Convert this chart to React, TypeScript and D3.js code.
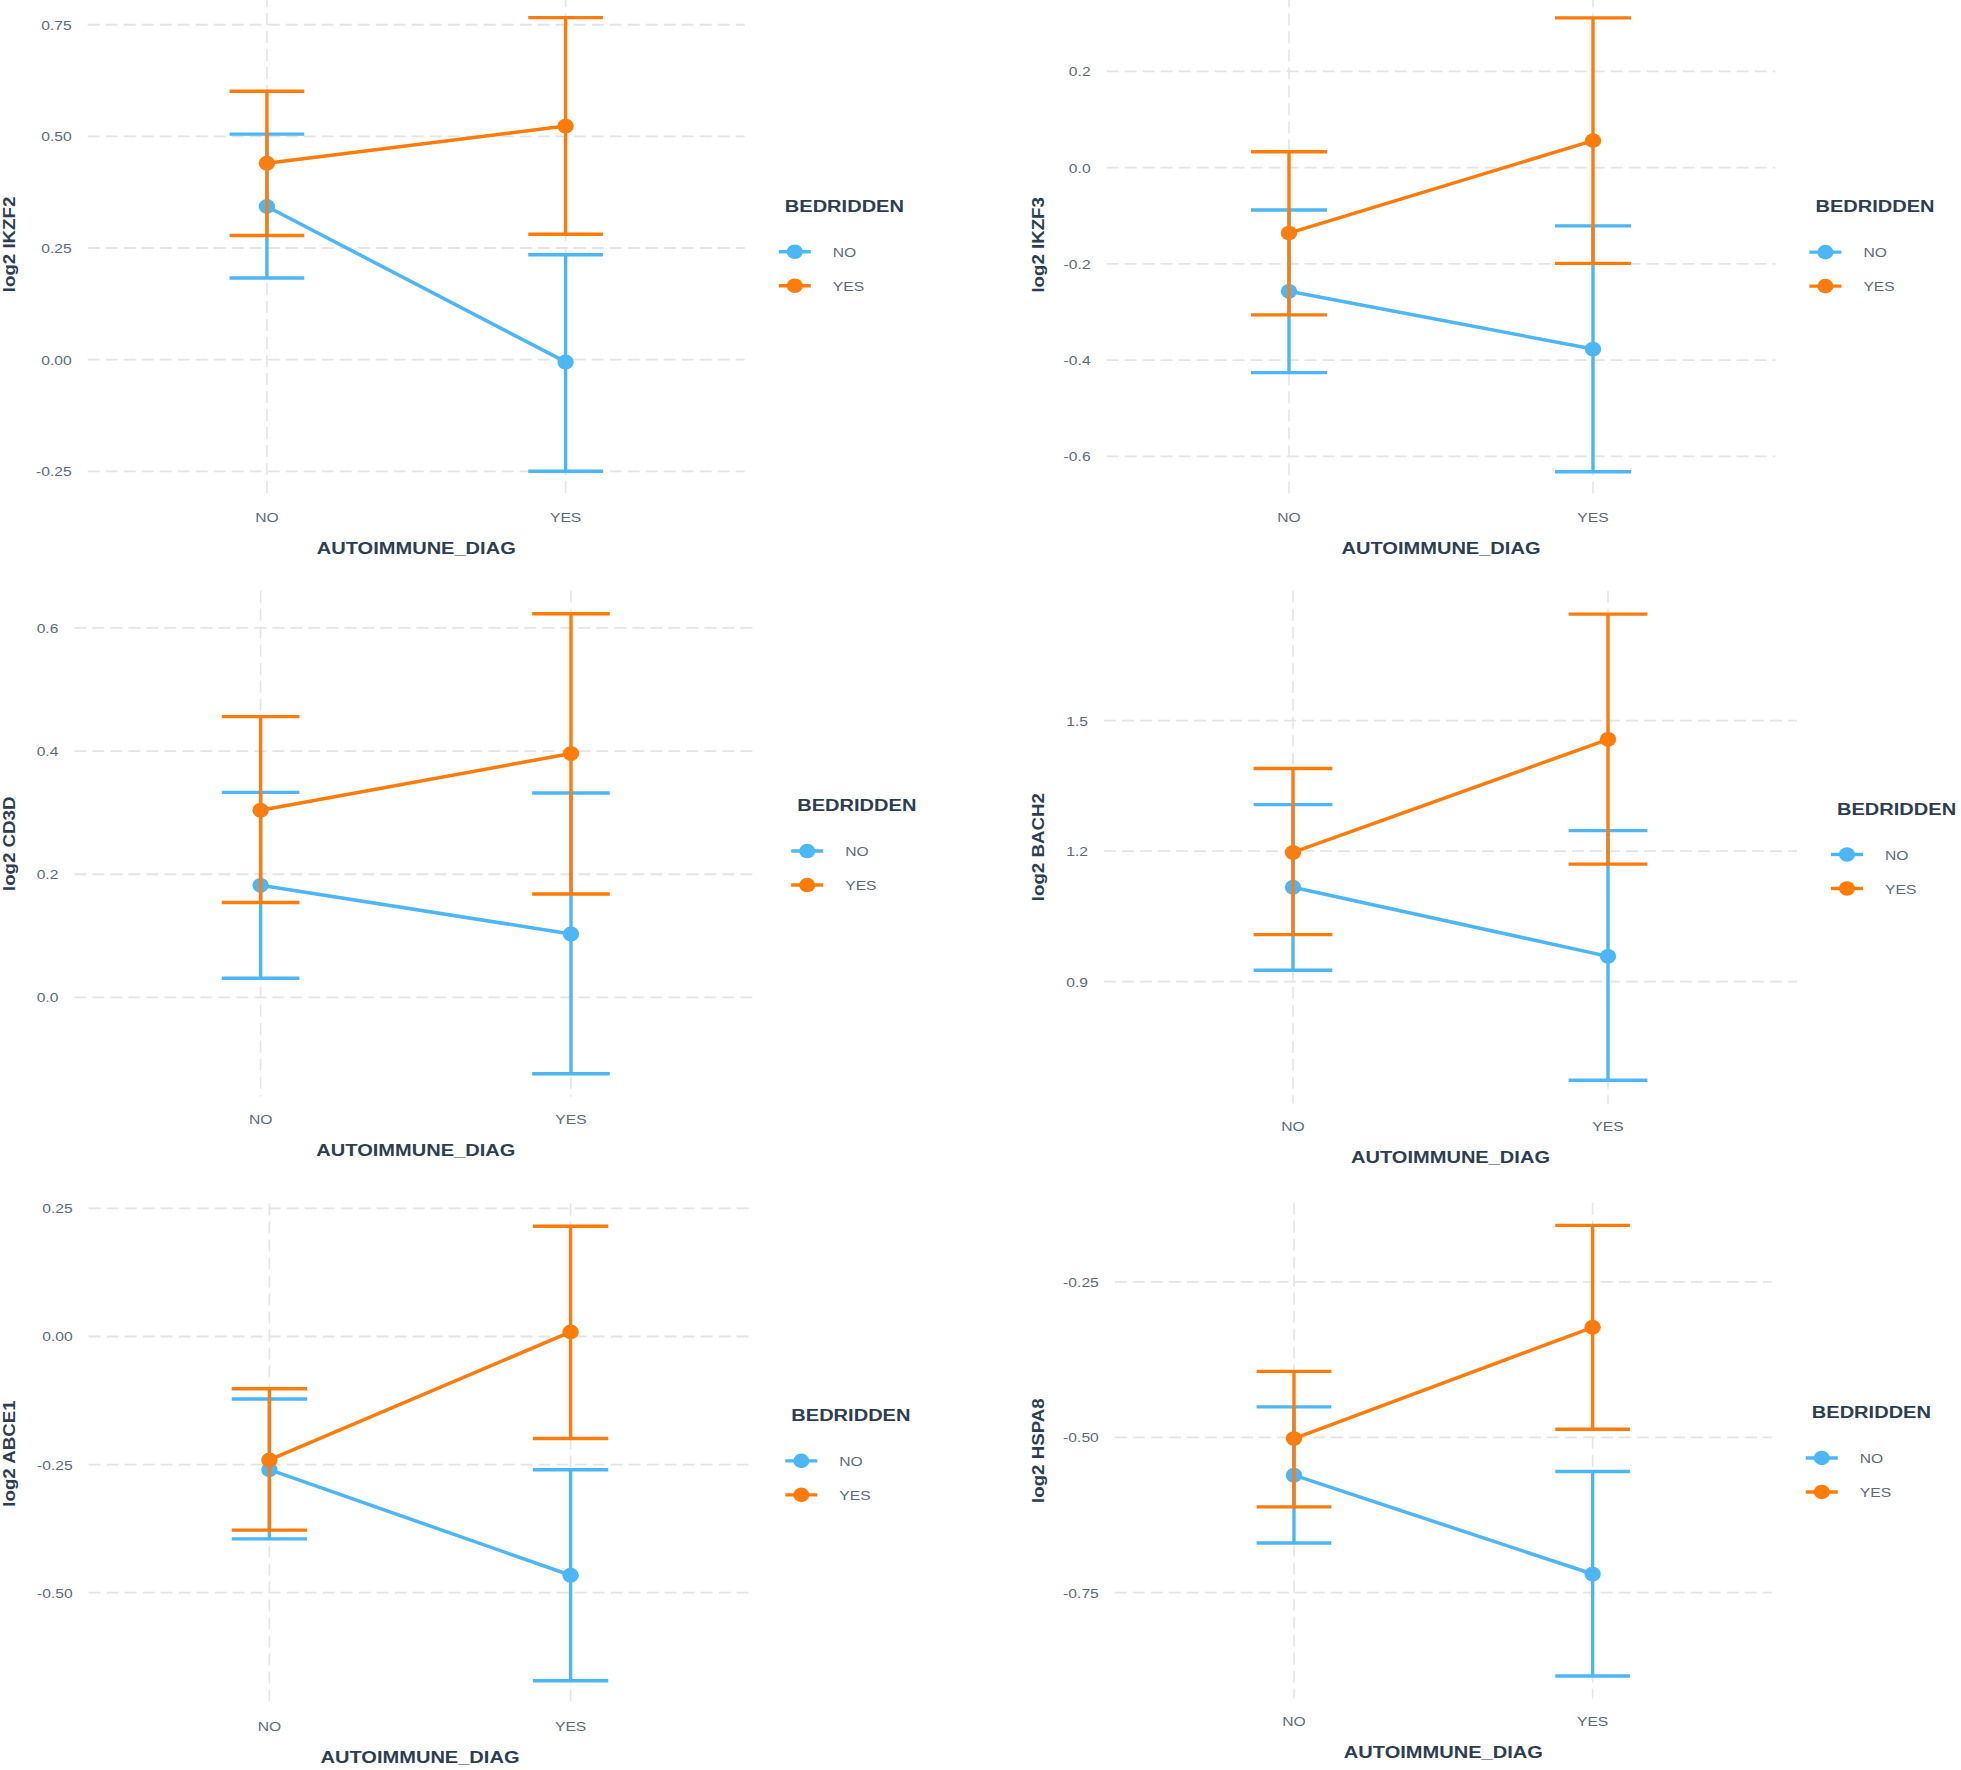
import React from "react";
import * as d3 from "d3";

// ---------- data ----------
const genes = ["IKZF2", "IKZF3", "CD3D", "BACH2", "ABCE1", "HSPA8"];
const diagLevels = ["NO", "YES"]; // AUTOIMMUNE_DIAG
const bedriddenLevels = ["NO", "YES"]; // BEDRIDDEN

// per gene: [at AUTOIMMUNE_DIAG=NO, at AUTOIMMUNE_DIAG=YES]
const meanBedNo = [
  [0.343, -0.005],
  [-0.257, -0.377],
  [0.182, 0.103],
  [1.117, 0.958],
  [-0.26, -0.466],
  [-0.561, -0.72],
];
const lowerBedNo = [
  [0.183, -0.25],
  [-0.426, -0.632],
  [0.031, -0.124],
  [0.926, 0.673],
  [-0.395, -0.672],
  [-0.67, -0.884],
];
const upperBedNo = [
  [0.505, 0.235],
  [-0.088, -0.121],
  [0.333, 0.332],
  [1.307, 1.247],
  [-0.122, -0.26],
  [-0.451, -0.555],
];
const meanBedYes = [
  [0.44, 0.523],
  [-0.136, 0.056],
  [0.304, 0.396],
  [1.197, 1.457],
  [-0.241, 0.009],
  [-0.502, -0.323],
];
const lowerBedYes = [
  [0.278, 0.281],
  [-0.306, -0.199],
  [0.154, 0.168],
  [1.008, 1.17],
  [-0.378, -0.199],
  [-0.612, -0.487],
];
const upperBedYes = [
  [0.601, 0.766],
  [0.033, 0.311],
  [0.456, 0.623],
  [1.39, 1.745],
  [-0.102, 0.215],
  [-0.394, -0.159],
];

const yTicks = [
  [-0.25, 0, 0.25, 0.5, 0.75],
  [-0.6, -0.4, -0.2, 0.0, 0.2],
  [0.0, 0.2, 0.4, 0.6],
  [0.9, 1.2, 1.5],
  [-0.5, -0.25, 0.0, 0.25],
  [-0.75, -0.5, -0.25],
];
const yTickDecimals = [2, 1, 1, 1, 2, 2];

// ---------- layout (pixels) ----------
const panelLeft = [87.7, 1106.6, 74.4, 1104, 88.7, 1114.8];
const panelRight = [744.8, 1775.4, 757.2, 1797, 751.3, 1771.8];
const panelTop = [-5.1, -4.8, 590.8, 590.8, 1203.6, 1202.8];
const panelBottom = [494, 494.5, 1096.7, 1103.6, 1703.5, 1698.5];
const yTitleX = [15, 1043.5, 15, 1043.5, 15, 1043.5];

// ---------- style ----------
const COLORS = ["#4db6f5", "#ff7b0a"];
const FONT = "'Liberation Sans', Arial, Helvetica, sans-serif";
const TICK_COLOR = "#5d6b79";
const TITLE_COLOR = "#2d3e50";
const GRID_COLOR = "#e4e4e4";
const SX = 1.16;

function HText(props: any) {
  const { x, y, anchor = "start", size, weight = "normal", fill, sx = SX, children } = props;
  return (
    <text
      transform={`translate(${x},${y}) scale(${sx},1)`}
      textAnchor={anchor}
      fontSize={size}
      fontWeight={weight}
      fill={fill}
      fontFamily={FONT}
    >
      {children}
    </text>
  );
}

function Panel({ i }: { i: number }) {
  const left = panelLeft[i];
  const right = panelRight[i];
  const top = panelTop[i];
  const bottom = panelBottom[i];

  const series = [
    { level: bedriddenLevels[0], mean: meanBedNo[i], lo: lowerBedNo[i], hi: upperBedNo[i], color: COLORS[0] },
    { level: bedriddenLevels[1], mean: meanBedYes[i], lo: lowerBedYes[i], hi: upperBedYes[i], color: COLORS[1] },
  ];

  const all = series.flatMap((s) => [...s.lo, ...s.hi, ...s.mean]);
  const mn = d3.min(all) as number;
  const mx = d3.max(all) as number;
  const pad = (mx - mn) * 0.05;

  const y = d3.scaleLinear().domain([mn - pad, mx + pad]).range([bottom, top]);
  const x = d3.scalePoint<string>().domain(diagLevels).range([left, right]).padding(0.6);
  const step = x.step();
  const capHalf = step * 0.125;

  const line = d3
    .line<number>()
    .x((_, k) => x(diagLevels[k]) as number)
    .y((v) => y(v));

  const f = d3.format(`.${yTickDecimals[i]}f`);
  const fmt = (t: number) => f(t).replace("\u2212", "-");
  const cy = (top + bottom) / 2;
  const cx = (left + right) / 2;

  return (
    <g>
      {/* grid */}
      {yTicks[i].map((t) => (
        <line
          key={"h" + t}
          x1={left}
          x2={right}
          y1={y(t)}
          y2={y(t)}
          stroke={GRID_COLOR}
          strokeWidth={1.8}
          strokeDasharray="12 6"
        />
      ))}
      {diagLevels.map((d) => (
        <line
          key={"v" + d}
          x1={x(d)}
          x2={x(d)}
          y1={top}
          y2={bottom}
          stroke={GRID_COLOR}
          strokeWidth={1.6}
          strokeDasharray="12 6"
        />
      ))}

      {/* y tick labels */}
      {yTicks[i].map((t) => (
        <HText key={"yt" + t} x={left - 16} y={y(t) + 5} anchor="end" size={13.5} fill={TICK_COLOR}>
          {fmt(t)}
        </HText>
      ))}
      {/* x tick labels */}
      {diagLevels.map((d) => (
        <HText key={"xt" + d} x={x(d)} y={bottom + 27.5} anchor="middle" size={13.5} fill={TICK_COLOR}>
          {d}
        </HText>
      ))}

      {/* axis titles */}
      <HText x={cx} y={bottom + 59.5} anchor="middle" size={17} weight="bold" fill={TITLE_COLOR} sx={1.18}>
        AUTOIMMUNE_DIAG
      </HText>
      <text
        transform={`translate(${yTitleX[i]},${cy}) rotate(-90) scale(1.1,1)`}
        textAnchor="middle"
        fontSize={17}
        fontWeight="bold"
        fill={TITLE_COLOR}
        fontFamily={FONT}
      >
        {"log2 " + genes[i]}
      </text>

      {/* lines */}
      {series.map((s) => (
        <path key={"l" + s.level} d={line(s.mean) as string} fill="none" stroke={s.color} strokeWidth={3.5} />
      ))}
      {/* points */}
      {series.map((s) =>
        s.mean.map((v, k) => (
          <ellipse key={"p" + s.level + k} cx={x(diagLevels[k])} cy={y(v)} rx={8.2} ry={7.4} fill={s.color} />
        ))
      )}
      {/* error bars */}
      {series.map((s) =>
        diagLevels.map((d, k) => {
          const px = x(d) as number;
          return (
            <g key={"e" + s.level + d} stroke={s.color} strokeWidth={3.4}>
              <line x1={px} x2={px} y1={y(s.lo[k])} y2={y(s.hi[k])} />
              <line x1={px - capHalf} x2={px + capHalf} y1={y(s.lo[k])} y2={y(s.lo[k])} />
              <line x1={px - capHalf} x2={px + capHalf} y1={y(s.hi[k])} y2={y(s.hi[k])} />
            </g>
          );
        })
      )}

      {/* legend */}
      <HText x={right + 40} y={cy - 38.5 + 6} size={17} weight="bold" fill={TITLE_COLOR} sx={1.18}>
        BEDRIDDEN
      </HText>
      {series.map((s, k) => {
        const ky = cy + 7.3 + k * 34;
        const kx = right + 50;
        return (
          <g key={"lg" + s.level}>
            <line x1={kx - 16} x2={kx + 16} y1={ky} y2={ky} stroke={s.color} strokeWidth={3.4} />
            <ellipse cx={kx} cy={ky} rx={8} ry={7.3} fill={s.color} />
            <HText x={right + 88} y={ky + 5} size={13.5} fill={TICK_COLOR}>
              {s.level}
            </HText>
          </g>
        );
      })}
    </g>
  );
}

export default function App() {
  return (
    <>
      <style>{`body{margin:0;background:#fff}`}</style>
      <svg width={1961} height={1770} style={{ display: "block", background: "#fff" }}>
        <rect x={0} y={0} width={1961} height={1770} fill="#fff" />
        {genes.map((g, i) => (
          <Panel key={g} i={i} />
        ))}
      </svg>
    </>
  );
}
